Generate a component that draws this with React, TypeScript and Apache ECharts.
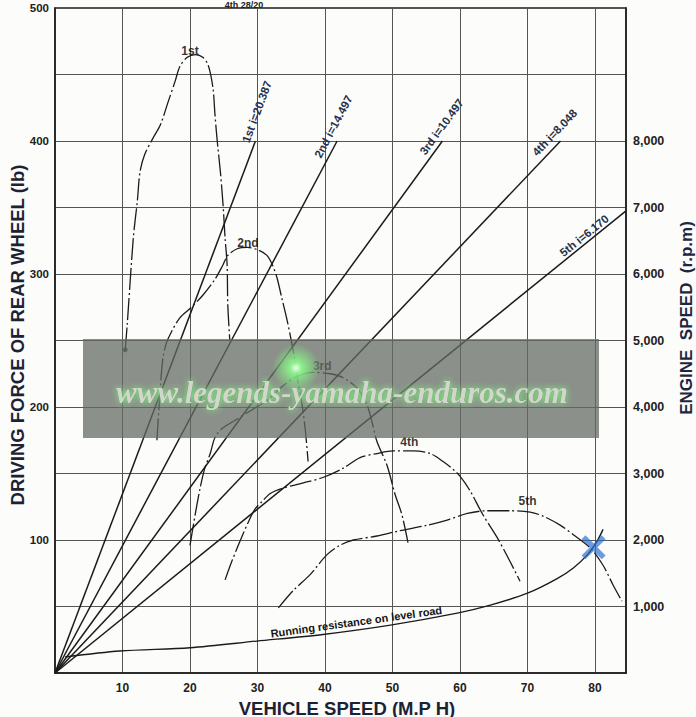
import React, { useEffect, useRef } from "react";
import * as echarts from "echarts";

// ---------- data ----------
const speedTicks = [10, 20, 30, 40, 50, 60, 70, 80];
const forceTicks = [100, 200, 300, 400, 500];
const rpmTicks = [1000, 2000, 3000, 4000, 5000, 6000, 7000, 8000];

const gearNames = ["1st", "2nd", "3rd", "4th", "5th"];
const ratioNames = ["1st i=20.387", "2nd i=14.497", "3rd i=10.497", "4th i=8.048", "5th i=6.170"];

// engine speed (r.p.m) vs vehicle speed (mph)
const ratio1st = [[0, 0], [29.7, 8000]];
const ratio2nd = [[0, 0], [41.8, 8000]];
const ratio3rd = [[0, 0], [57.4, 8000]];
const ratio4th = [[0, 0], [74.9, 8000]];
const ratio5th = [[0, 0], [84.6, 6950]];

// driving force of rear wheel (lb) vs vehicle speed (mph)
const force1st = [[10.4, 243], [10.7, 262], [11.6, 327], [12.2, 355], [12.6, 377], [13.3, 390], [14.5, 402], [15.6, 412], [16.8, 430], [17.8, 445], [18.5, 456], [19.6, 463], [20.8, 465], [21.9, 463], [22.7, 457], [23.4, 440], [23.7, 420], [24.0, 402], [24.5, 377], [24.9, 352], [25.2, 327], [25.5, 307], [25.6, 277], [25.9, 250]];
const force2nd = [[15.1, 175], [15.6, 214], [16.0, 237], [16.5, 248], [17.3, 257], [18.5, 267], [20.0, 274], [21.9, 284], [23.7, 296], [24.9, 307], [25.6, 314], [27.0, 319], [28.5, 320], [30.1, 318], [31.4, 314], [32.2, 307], [32.9, 297], [33.6, 282], [34.4, 265], [35.3, 242], [35.9, 222], [36.6, 202], [37.1, 182], [37.5, 159]];
const force3rd = [[20.0, 96], [20.8, 120], [21.5, 139], [22.2, 154], [23.0, 165], [23.7, 177], [24.8, 184], [26.7, 190], [28.9, 197], [31.4, 205], [33.8, 216], [35.9, 223], [38.2, 226], [40.8, 225], [42.7, 222], [44.8, 214], [46.2, 202], [47.0, 188], [47.7, 174], [49.2, 156], [50.4, 134], [51.4, 119], [52.3, 98]];
const force4th = [[25.2, 70], [26.2, 84], [27.4, 99], [28.6, 113], [29.6, 123], [30.7, 129], [31.9, 135], [33.8, 139], [36.8, 143], [39.7, 147], [42.7, 154], [45.2, 162], [47.7, 165], [50.1, 167], [53.1, 167], [55.6, 165], [57.5, 159], [59.0, 153], [60.0, 148], [61.5, 137], [63.4, 119], [65.5, 102], [67.4, 84], [68.9, 69]];
const force5th = [[33.1, 49], [35.3, 62], [37.8, 74], [40.3, 89], [42.2, 96], [44.2, 100], [47.7, 103], [51.1, 107], [55.1, 111], [58.1, 115], [61.1, 120], [64.0, 122], [67.4, 122], [70.4, 121], [72.3, 118], [74.9, 111], [76.8, 104], [79.3, 94], [81.2, 81], [82.7, 66], [84.0, 54]];
const resistance = [[1.5, 12], [9.6, 16.5], [20.0, 19], [29.9, 24], [39.7, 29], [49.7, 36], [59.6, 45], [64.5, 51], [70.0, 60], [74.4, 71], [76.8, 79], [78.9, 89], [80.3, 99], [81.2, 108]];
const crossMark = [[79.8, 94.5]];
const startDot = [[10.4, 243]];

const resistanceName = "Running resistance on level road";
const topNote = "4th 28/20";
const watermark = "www.legends-yamaha-enduros.com";

// ---------- layout / style config ----------
const gearLabelAt = [[20.0, 468], [28.6, 323], [39.6, 231], [52.5, 174], [70.0, 129]];
const ratioLabelShift = [[28, 9], [11, 10], [11, 9], [2, 10], [-48, 7]];
const FONT = "'Liberation Sans', Arial, Helvetica, sans-serif";
const INK = "#1b1b1b";
const DASHDOT = [22, 3, 2, 3];

export default function App() {
  const ref = useRef<HTMLDivElement>(null);

  useEffect(() => {
    const chart = echarts.init(ref.current!, null, { renderer: "svg" });
    const ratios = [ratio1st, ratio2nd, ratio3rd, ratio4th, ratio5th];
    const forces = [force1st, force2nd, force3rd, force4th, force5th];

    const series: any[] = [];
    ratios.forEach((d, i) =>
      series.push({
        name: ratioNames[i],
        type: "line",
        yAxisIndex: 1,
        data: d,
        symbol: "none",
        silent: true,
        lineStyle: { color: INK, width: 1.5 },
      })
    );
    forces.forEach((d, i) =>
      series.push({
        name: gearNames[i],
        type: "line",
        yAxisIndex: 0,
        data: d,
        symbol: "none",
        smooth: 0.3,
        silent: true,
        lineStyle: { color: INK, width: 1.3, type: DASHDOT },
      })
    );
    const resIdx = series.length;
    series.push({
      name: resistanceName,
      type: "line",
      yAxisIndex: 0,
      data: resistance,
      symbol: "none",
      smooth: 0.3,
      silent: true,
      lineStyle: { color: INK, width: 1.4 },
    });
    series.push({
      type: "scatter",
      yAxisIndex: 0,
      data: gearLabelAt.map((p, i) => ({ value: p, name: gearNames[i] })),
      symbolSize: 1,
      itemStyle: { color: "rgba(0,0,0,0)" },
      silent: true,
      label: {
        show: true,
        position: "inside",
        formatter: "{b}",
        fontFamily: FONT,
        fontSize: 12,
        fontWeight: "bold",
        color: "#000",
      },
    });
    series.push({
      type: "scatter",
      yAxisIndex: 0,
      data: crossMark,
      symbol: "path://M0,1.6L1.6,0L10,8.4L8.4,10Z M8.4,0L10,1.6L1.6,10L0,8.4Z",
      symbolSize: 24,
      silent: true,
      itemStyle: { color: "rgba(40,110,210,0.85)" },
      z: 5,
    });
    series.push({
      type: "scatter",
      yAxisIndex: 0,
      data: startDot,
      symbolSize: 5,
      silent: true,
      itemStyle: { color: "#1b2a44" },
      z: 5,
    });

    const tickLabel = {
      fontFamily: FONT,
      fontSize: 12,
      fontWeight: "bold",
      color: "#222",
    };

    chart.setOption({
      animation: false,
      backgroundColor: "#fcfcfa",
      grid: {
        left: 55,
        top: 8,
        right: 70,
        bottom: 44,
        show: true,
        borderColor: "#1e1e1e",
        borderWidth: 1.5,
      },
      xAxis: {
        type: "value",
        min: 0,
        max: 84.6,
        interval: 10,
        axisLine: { show: true, onZero: false, lineStyle: { color: "#1e1e1e", width: 1.5 } },
        axisTick: { show: false },
        axisLabel: {
          ...tickLabel,
          margin: 9,
          formatter: (v: number) => (speedTicks.includes(v) ? String(v) : ""),
        },
        splitLine: { show: true, lineStyle: { color: "#555", width: 1 } },
      },
      yAxis: [
        {
          type: "value",
          min: 0,
          max: 500,
          interval: 50,
          position: "left",
          axisLine: { show: true, lineStyle: { color: "#1e1e1e", width: 1.5 } },
          axisTick: { show: false },
          axisLabel: {
            ...tickLabel,
            fontSize: 11.5,
            margin: 6,
            formatter: (v: number) => (forceTicks.includes(v) ? String(v) : ""),
          },
          splitLine: { show: true, lineStyle: { color: "#555", width: 1 } },
        },
        {
          type: "value",
          min: 0,
          max: 10000,
          interval: 1000,
          position: "right",
          axisLine: { show: true, lineStyle: { color: "#1e1e1e", width: 1.5 } },
          axisTick: { show: false },
          axisLabel: {
            ...tickLabel,
            fontSize: 12.5,
            margin: 7,
            formatter: (v: number) => (rpmTicks.includes(v) ? `${v / 1000},000` : ""),
          },
          splitLine: { show: false },
        },
      ],
      series,
    });

    const px = (seriesIndex: number, p: number[]) =>
      chart.convertToPixel({ seriesIndex }, p) as unknown as number[];

    const graphics: any[] = [];

    // gear-ratio labels along each line
    ratios.forEach((d, i) => {
      const a = px(i, d[0]);
      const b = px(i, d[1]);
      const dx = b[0] - a[0];
      const dy = b[1] - a[1];
      const len = Math.hypot(dx, dy);
      const ux = dx / len;
      const uy = dy / len;
      const nx = uy;
      const ny = -ux;
      const [s, off] = ratioLabelShift[i];
      graphics.push({
        type: "text",
        x: b[0] + ux * s + nx * off,
        y: b[1] + uy * s + ny * off,
        rotation: Math.atan2(-dy, dx),
        z: 10,
        style: {
          text: ratioNames[i],
          fontFamily: FONT,
          fontSize: 11.5,
          fontWeight: 600,
          fill: "#26304a",
          align: "center",
          verticalAlign: "middle",
        },
      });
    });

    // running resistance label
    {
      const a = px(resIdx, [30, 24]);
      const b = px(resIdx, [60, 45]);
      const c = px(resIdx, [44.8, 32.6]);
      const dx = b[0] - a[0];
      const dy = b[1] - a[1];
      const len = Math.hypot(dx, dy);
      const ux = dx / len;
      const uy = dy / len;
      graphics.push({
        type: "text",
        x: c[0] + uy * 8,
        y: c[1] - ux * 8,
        rotation: Math.atan2(-dy, dx),
        z: 10,
        style: {
          text: resistanceName,
          fontFamily: FONT,
          fontSize: 11,
          fontWeight: "bold",
          fill: "#151515",
          align: "center",
          verticalAlign: "middle",
        },
      });
    }

    // axis names
    graphics.push({
      type: "text",
      x: 17,
      y: 335,
      rotation: Math.PI / 2,
      z: 10,
      style: {
        text: "DRIVING FORCE OF REAR WHEEL (lb)",
        fontFamily: FONT,
        fontSize: 18.5,
        fontWeight: "bold",
        fill: "#1c2233",
        align: "center",
        verticalAlign: "middle",
      },
    });
    graphics.push({
      type: "text",
      x: 686,
      y: 318,
      rotation: Math.PI / 2,
      z: 10,
      style: {
        text: "ENGINE  SPEED  (r.p.m)",
        fontFamily: FONT,
        fontSize: 17,
        fontWeight: "bold",
        fill: "#1c2640",
        align: "center",
        verticalAlign: "middle",
      },
    });
    graphics.push({
      type: "text",
      x: 347,
      y: 708,
      z: 10,
      style: {
        text: "VEHICLE SPEED (M.P H)",
        fontFamily: FONT,
        fontSize: 18.5,
        fontWeight: "bold",
        fill: "#1c2233",
        align: "center",
        verticalAlign: "middle",
      },
    });
    graphics.push({
      type: "text",
      x: 244,
      y: 0.5,
      z: 10,
      style: {
        text: topNote,
        fontFamily: FONT,
        fontSize: 9,
        fontWeight: "bold",
        fill: "#222",
        align: "center",
        verticalAlign: "top",
      },
    });

    // watermark banner
    graphics.push({
      type: "rect",
      shape: { x: 83, y: 339, width: 516, height: 99 },
      z: 50,
      silent: true,
      style: { fill: "rgba(100,106,98,0.74)" },
    });
    graphics.push({
      type: "circle",
      shape: { cx: 296, cy: 368, r: 24 },
      z: 51,
      silent: true,
      style: {
        fill: new echarts.graphic.RadialGradient(0.5, 0.5, 0.5, [
          { offset: 0, color: "rgba(240,255,240,1)" },
          { offset: 0.25, color: "rgba(140,255,140,0.85)" },
          { offset: 1, color: "rgba(120,255,120,0)" },
        ]),
      },
    });
    graphics.push({
      type: "text",
      x: 342,
      y: 392,
      z: 52,
      silent: true,
      style: {
        text: watermark,
        fontFamily: "'Liberation Serif', 'DejaVu Serif', serif",
        fontSize: 31,
        fontStyle: "italic",
        fontWeight: "bold",
        fill: "#d4d6ce",
        stroke: "rgba(90,140,90,0.6)",
        lineWidth: 0.6,
        textShadowColor: "rgba(120,255,120,0.9)",
        textShadowBlur: 6,
        align: "center",
        verticalAlign: "middle",
      },
    });

    chart.setOption({ graphic: graphics });

    return () => chart.dispose();
  }, []);

  return (
    <div
      ref={ref}
      style={{ position: "fixed", left: 0, top: 0, width: 696, height: 717 }}
    />
  );
}
